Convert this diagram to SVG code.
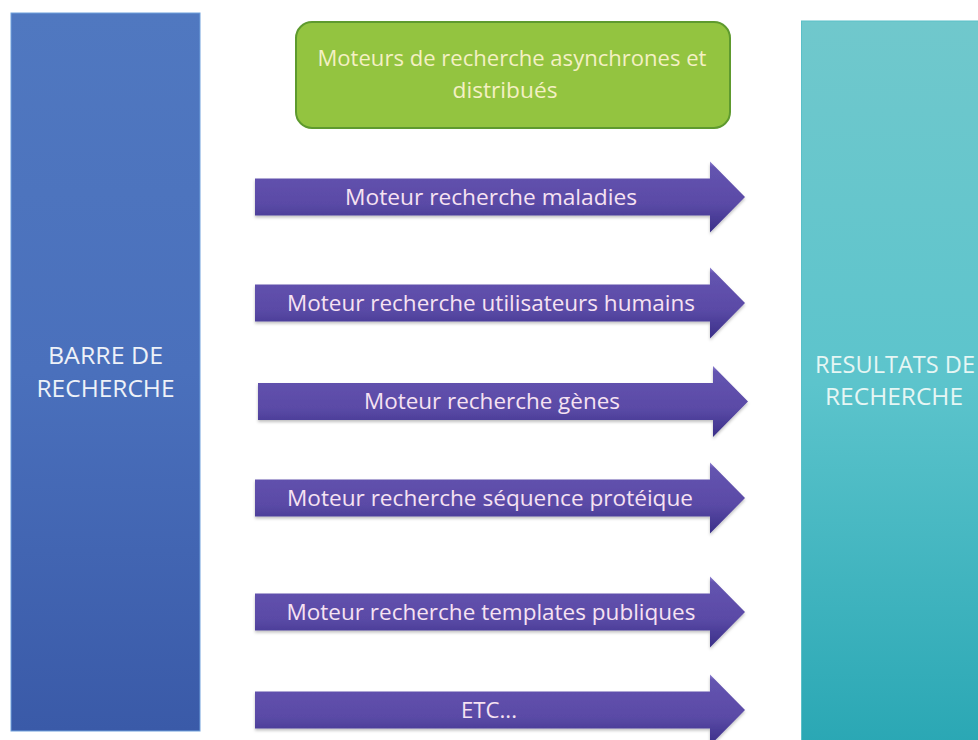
<svg xmlns="http://www.w3.org/2000/svg" width="978" height="740" viewBox="0 0 978 740">
<defs>
<linearGradient id="gBlue" x1="0" y1="0" x2="0" y2="1">
<stop offset="0" stop-color="#5078c0"/>
<stop offset="0.5" stop-color="#4a70bc"/>
<stop offset="1" stop-color="#3a5aa8"/>
</linearGradient>
<linearGradient id="gTeal" x1="0" y1="0" x2="0" y2="1">
<stop offset="0" stop-color="#70c8cc"/>
<stop offset="0.5" stop-color="#5cc4cc"/>
<stop offset="1" stop-color="#2aa7b4"/>
</linearGradient>
<linearGradient id="gArrow" x1="0" y1="0" x2="0" y2="1">
<stop offset="0" stop-color="#8c7fd0"/>
<stop offset="0.08" stop-color="#6454b0"/>
<stop offset="0.6" stop-color="#5a4aa6"/>
<stop offset="1" stop-color="#3a2f88"/>
</linearGradient>
<filter id="sh" x="-5%" y="-20%" width="110%" height="150%">
<feDropShadow dx="0" dy="2" stdDeviation="1.5" flood-color="#000" flood-opacity="0.25"/>
</filter>
<path id="arrow" d="M0,-18.5 L455,-18.5 L455,-35.5 L490,0 L455,35.5 L455,18.5 L0,18.5 Z"/>
</defs>
<style>
.t{font-family:"Open Sans","Liberation Sans",sans-serif;text-anchor:middle}
.at{fill:#f6e2f2;font-size:21px}
.bt{fill:#eef2f8;font-size:23px}
.gt{fill:#f4f0c4;font-size:21px}
.rt{fill:#e6f6f4;font-size:23px}
.ar{fill:url(#gArrow);filter:url(#sh)}
</style>
<rect width="978" height="740" fill="#ffffff"/>
<g id="barre">
<rect x="11" y="13" width="189" height="718" fill="url(#gBlue)" stroke="#6ea0dc" stroke-width="1"/>
<text class="t bt" x="105.5" y="364" textLength="115" lengthAdjust="spacingAndGlyphs">BARRE DE</text>
<text class="t bt" x="105.5" y="397" textLength="138" lengthAdjust="spacingAndGlyphs">RECHERCHE</text>
</g>
<g id="resultats">
<rect x="801.5" y="21" width="190" height="725" fill="url(#gTeal)" stroke="#5bbfc8" stroke-width="1"/>
<text class="t rt" x="895" y="373" textLength="160" lengthAdjust="spacingAndGlyphs">RESULTATS DE</text>
<text class="t rt" x="894" y="405" textLength="138" lengthAdjust="spacingAndGlyphs">RECHERCHE</text>
</g>
<g id="moteurs">
<rect x="296" y="22" width="434" height="106" rx="16" ry="16" fill="#93c440" stroke="#5e9a2e" stroke-width="2"/>
<text class="t gt" x="512" y="66" textLength="389" lengthAdjust="spacingAndGlyphs">Moteurs de recherche asynchrones et</text>
<text class="t gt" x="505" y="98" textLength="105" lengthAdjust="spacingAndGlyphs">distribués</text>
</g>
<g id="connectors">
<g id="a1">
<use href="#arrow" class="ar" transform="translate(255,197)"/>
<text class="t at" x="491" y="205" textLength="292" lengthAdjust="spacingAndGlyphs">Moteur recherche maladies</text>
</g>
<g id="a2">
<use href="#arrow" class="ar" transform="translate(255,303)"/>
<text class="t at" x="491" y="311" textLength="408" lengthAdjust="spacingAndGlyphs">Moteur recherche utilisateurs humains</text>
</g>
<g id="a3">
<use href="#arrow" class="ar" transform="translate(258,401.5)"/>
<text class="t at" x="492" y="409" textLength="256" lengthAdjust="spacingAndGlyphs">Moteur recherche gènes</text>
</g>
<g id="a4">
<use href="#arrow" class="ar" transform="translate(255,498)"/>
<text class="t at" x="490" y="506" textLength="406" lengthAdjust="spacingAndGlyphs">Moteur recherche séquence protéique</text>
</g>
<g id="a5">
<use href="#arrow" class="ar" transform="translate(255,612)"/>
<text class="t at" x="491" y="620" textLength="409" lengthAdjust="spacingAndGlyphs">Moteur recherche templates publiques</text>
</g>
<g id="a6">
<use href="#arrow" class="ar" transform="translate(255,710)"/>
<text class="t at" x="489" y="718" textLength="56" lengthAdjust="spacingAndGlyphs">ETC...</text>
</g>
</g>
</svg>
